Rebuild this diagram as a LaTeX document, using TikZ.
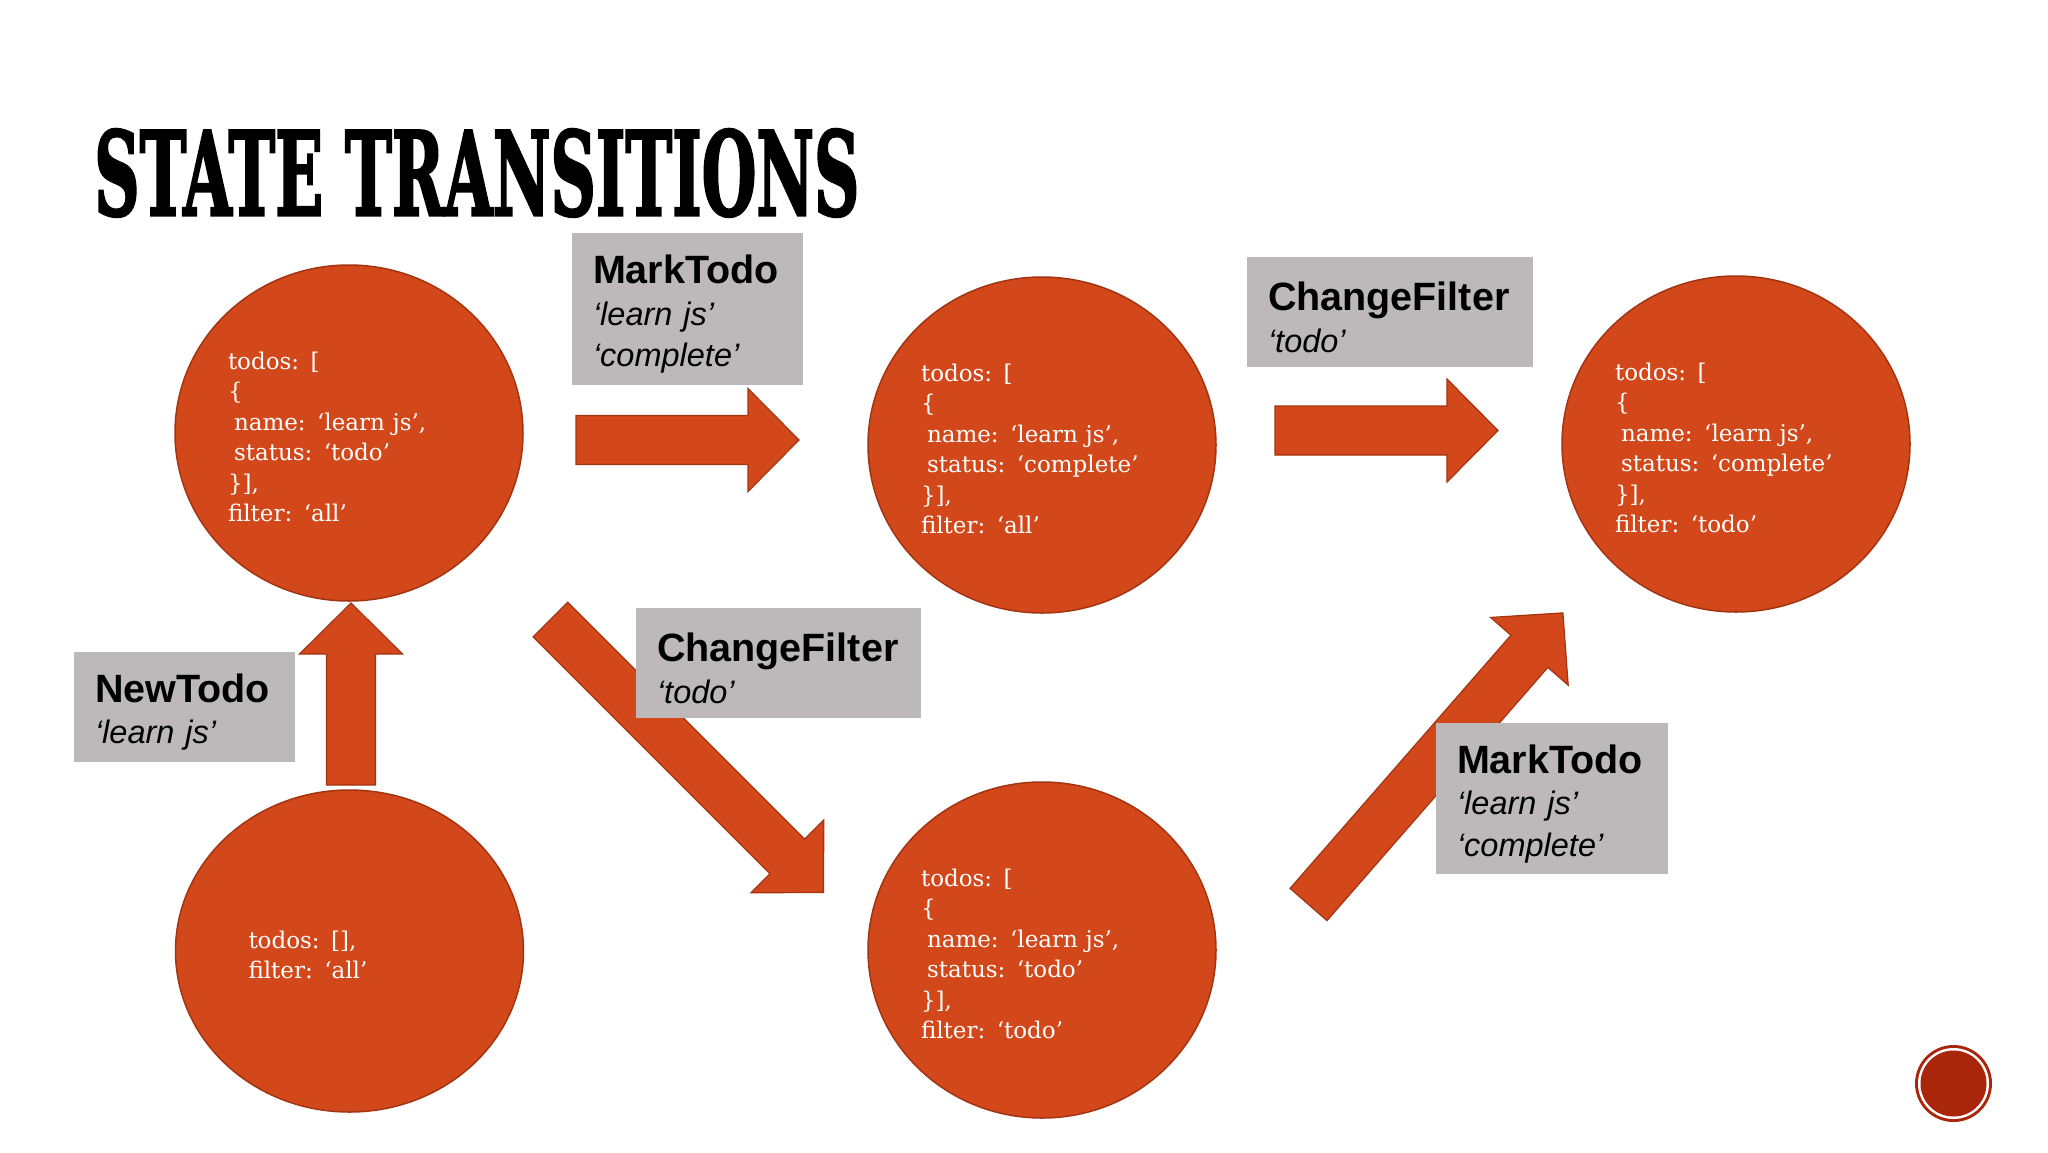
\documentclass[tikz,border=0pt]{standalone}
\usepackage{fontspec}
\usetikzlibrary{shapes.geometric}
\newfontfamily\statefont{DejaVu Serif}
\newfontfamily\actfont{Liberation Sans}
\newfontfamily\titlefont{DejaVu Serif}[BoldFeatures={FakeBold=2.5}]
\definecolor{stateorange}{RGB}{211,72,26}
\definecolor{stateedge}{RGB}{163,52,18}
\definecolor{actgray}{RGB}{189,185,187}
\definecolor{badgered}{RGB}{170,38,10}
\newcommand{\actname}[1]{{\upshape\bfseries\fontsize{39.5}{41.5}\selectfont\rule{0pt}{39pt}#1}}
\newcommand{\firstline}{\rule{0pt}{25.5pt}}
\setlength{\parindent}{0pt}

\begin{document}
\begin{tikzpicture}[x=1pt,y=-1pt,
  state/.style={ellipse, fill=stateorange, draw=stateedge, line width=1.5pt,
    minimum width=348pt, minimum height=336pt, inner sep=0pt, text=white,
    align=left, text width=242pt, font=\statefont\fontsize{23}{30.5}\selectfont},
  actbox/.style={fill=actgray, inner xsep=21pt, inner ysep=0pt, align=left,
    font=\actfont\itshape\fontsize{32.5}{41.5}\selectfont},
  arrowbody/.style={fill=stateorange, draw=stateedge, line width=1.2pt},
  pics/blockarrow/.style={code={
    \draw[arrowbody] (0,-24.5) -- ({#1-51},-24.5) -- ({#1-51},-51.5) -- (#1,0)
      -- ({#1-51},51.5) -- ({#1-51},24.5) -- (0,24.5) -- cycle;}},
]
\useasboundingbox (0,0) rectangle (2048,1152);

% title
\node[inner sep=0pt, anchor=south west] (title) at (94,217)
  {\resizebox{765pt}{86pt}{\titlefont\bfseries STATE TRANSITIONS}};

% states
\node[state, minimum height=322pt, text width=202pt] (s0) at (349.5,951) {\firstline todos: [],\\ filter: ‘all’};
\node[state] (s1) at (349,433) {\firstline todos: [\\ \{\\ \hspace*{6pt}name: ‘learn js’,\\ \hspace*{6pt}status: ‘todo’\\ \}],\\ filter: ‘all’};
\node[state] (s2) at (1042,445) {\firstline todos: [\\ \{\\ \hspace*{6pt}name: ‘learn js’,\\ \hspace*{6pt}status: ‘complete’\\ \}],\\ filter: ‘all’};
\node[state] (s3) at (1042,950) {\firstline todos: [\\ \{\\ \hspace*{6pt}name: ‘learn js’,\\ \hspace*{6pt}status: ‘todo’\\ \}],\\ filter: ‘todo’};
\node[state] (s4) at (1736,444) {\firstline todos: [\\ \{\\ \hspace*{6pt}name: ‘learn js’,\\ \hspace*{6pt}status: ‘complete’\\ \}],\\ filter: ‘todo’};

% transitions
\coordinate (t1s) at (576,440);
\coordinate (t2s) at (1275,430.5);
\coordinate (t3s) at (351,785);
\coordinate (t4s) at (550.5,619.5);
\coordinate (t5s) at (1308.5,904.5);
\pic at (t1s) {blockarrow=223};
\pic at (t2s) {blockarrow=223};
\pic[rotate=90] at (t3s) {blockarrow=182};
\pic[rotate=-45] at (t4s) {blockarrow=386};
\pic[rotate=48.9] at (t5s) {blockarrow=387};

% actions
\node[actbox, text width=189pt, minimum height=152pt] (a1) at (687.5,309) {\actname{MarkTodo}\\ ‘learn js’\\ ‘complete’};
\node[actbox, text width=244pt, minimum height=110pt] (a2) at (1390,312) {\actname{ChangeFilter}\\ ‘todo’};
\node[actbox, text width=179pt, minimum height=110pt] (a3) at (184.5,707) {\actname{NewTodo}\\ ‘learn js’};
\node[actbox, text width=243pt, minimum height=110pt] (a4) at (778.5,663) {\actname{ChangeFilter}\\ ‘todo’};
\node[actbox, text width=190pt, minimum height=151pt] (a5) at (1552,798.5) {\actname{MarkTodo}\\ ‘learn js’\\ ‘complete’};

% badge
\fill[badgered] (1953.5,1083.5) circle (38.5);
\fill[white] (1953.5,1083.5) circle (35.5);
\fill[badgered] (1953.5,1083.5) circle (33);
\end{tikzpicture}
\end{document}
